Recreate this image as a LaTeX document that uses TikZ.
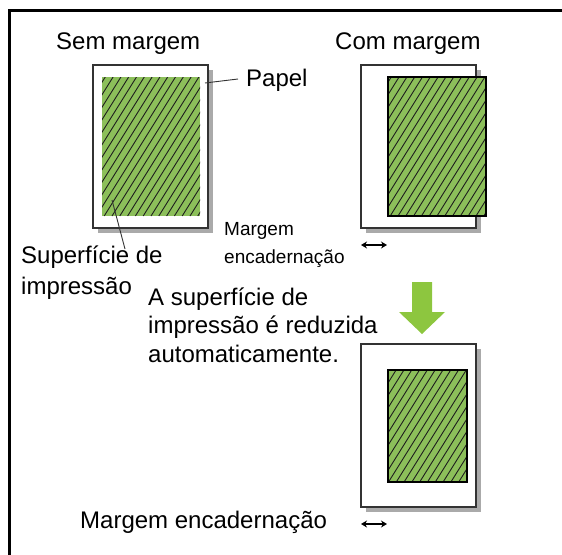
\documentclass[tikz,border=0pt]{standalone}
\usepackage{fontspec}
\setmainfont{Liberation Sans}
\usetikzlibrary{arrows.meta}
\definecolor{hatchgreen}{RGB}{140,191,90}
\definecolor{arrowgreen}{RGB}{141,198,63}
\definecolor{shadowgray}{RGB}{170,170,170}
\definecolor{paperline}{RGB}{51,51,51}
\definecolor{hatchdark}{RGB}{30,30,30}
\tikzset{
  paper/.style={draw=paperline, line width=1.3pt, fill=white, minimum width=115pt, minimum height=163pt, inner sep=0pt},
  hatchline/.style={draw=hatchdark, line width=0.9pt},
  hatch/.style={fill=hatchgreen, inner sep=0pt, path picture={
      \foreach \k in {-20,...,8}{\draw[hatchline] ([xshift=\k*7.8pt]path picture bounding box.south) -- ++(100,-160);}}},
  greenbox/.style={hatch},
  greenboxb/.style={hatch, draw=black, line width=1.1pt},
  bigtxt/.style={font=\fontsize{24}{28.5}\selectfont, inner sep=0pt, anchor=base west, align=left},
  smalltxt/.style={font=\fontsize{19}{28}\selectfont, inner sep=0pt, anchor=base west, align=left},
  leader/.style={draw=paperline, line width=0.9pt},
  dbl/.style={{Stealth[length=6pt,width=7pt]}-{Stealth[length=6pt,width=7pt]}, line width=1.4pt, black},
}
\begin{document}
\begin{tikzpicture}[x=1pt,y=-1pt]
\useasboundingbox (0,0) rectangle (562,554);
% frame
\draw[line width=3pt, line join=miter] (9.5,560) -- (9.5,10.5) -- (565,10.5);

% titles
\node[bigtxt] (sem) at (56,49) {Sem margem};
\node[bigtxt] (com) at (335,49) {Com margem};

% left paper
\fill[shadowgray] (98,70) rectangle (213,233);
\node[paper] (lp) at (150.5,146.5) {};
\node[greenbox, minimum width=98pt, minimum height=139pt] (lg) at (151,146.5) {};

% right paper
\fill[shadowgray] (366,70) rectangle (481,233);
\node[paper] (rp) at (418.5,146.5) {};
\node[greenboxb, minimum width=98pt, minimum height=139pt] (rg) at (437,146.5) {};

% labels left
\node[bigtxt] (papel) at (246,86) {Papel};
\coordinate (pa) at (205,83);
\coordinate (pb) at (238,79);
\draw[leader] (pa) -- (pb);

% (base anchor of a multi-line node = last line's baseline)
\node[bigtxt, font=\fontsize{24}{31}\selectfont] (sup) at (21,294) {Superfície de\\impressão};
\coordinate (sa) at (112,200);
\coordinate (sb) at (125,249);
\draw[leader] (sa) -- (sb);

\node[smalltxt] (marg1) at (224,263) {Margem\\encadernação};

\coordinate (ra1) at (361,245);
\coordinate (ra2) at (387,245);
\draw[dbl] (ra1) -- (ra2);

% green arrow
\fill[arrowgreen] (412,282) -- (432,282) -- (432,312) -- (445,312) -- (422,334) -- (399,312) -- (412,312) -- cycle;

% text block
\node[bigtxt] (red) at (148,362) {A superfície de\\impressão é reduzida\\automaticamente.};

% bottom paper
\fill[shadowgray] (366,349) rectangle (481,512);
\node[paper] (bp) at (418.5,425.5) {};
\node[greenboxb, minimum width=79pt, minimum height=112pt] (bg) at (427.5,426) {};

\node[bigtxt] (marg2) at (80,528) {Margem encadernação};
\coordinate (ba1) at (361,524);
\coordinate (ba2) at (387,524);
\draw[dbl] (ba1) -- (ba2);
\end{tikzpicture}
\end{document}
